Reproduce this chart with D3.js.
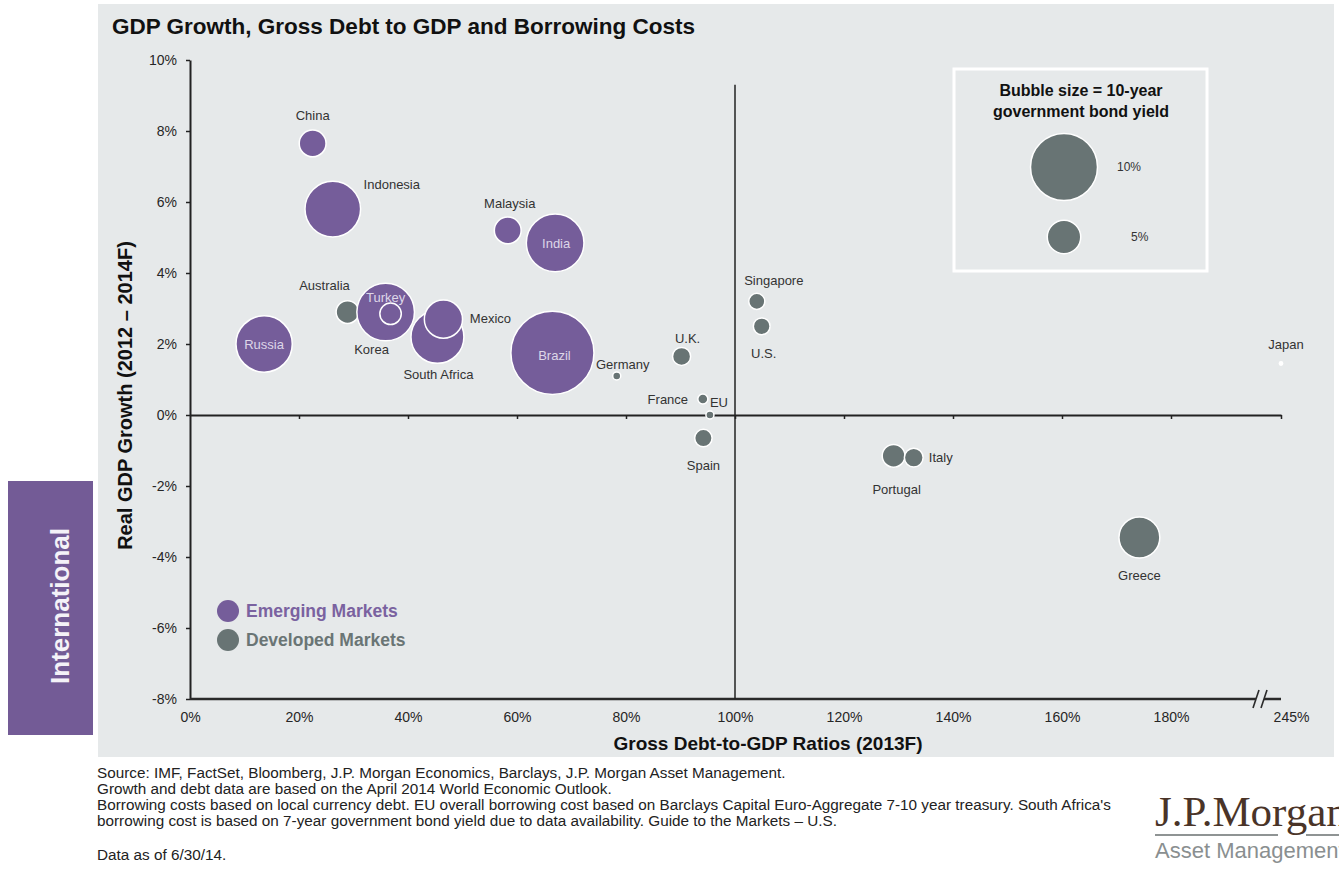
<!DOCTYPE html>
<html>
<head>
<meta charset="utf-8">
<script src="https://cdn.jsdelivr.net/npm/d3@7"></script>
<style>
  body { margin: 0; background: #fff; }
  svg { display: block; font-family: "Liberation Sans", Arial, sans-serif; }
</style>
</head>
<body>
<div id="chart"></div>
<script>
// data
const countries = ["China", "Indonesia", "Malaysia", "India", "Russia", "Australia", "Turkey", "Korea",
  "South Africa", "Mexico", "Brazil", "Germany", "U.K.", "Singapore", "U.S.", "France", "EU", "Spain",
  "Portugal", "Italy", "Greece", "Japan"];
const groups = ["EM", "EM", "EM", "EM", "EM", "DM", "EM", "EM",
  "EM", "EM", "EM", "DM", "DM", "DM", "DM", "DM", "DM", "DM",
  "DM", "DM", "DM", "DM"];
const debtToGdp = [22.5, 26.2, 58.3, 67.0, 13.6, 28.9, 35.9, 36.8,
  45.4, 46.5, 66.5, 78.3, 90.2, 104.0, 104.9, 94.1, 95.4, 94.2,
  129.1, 132.8, 174.2, 245];
const gdpGrowth = [7.65, 5.8, 5.2, 4.85, 2.0, 2.9, 2.9, 2.85,
  2.2, 2.7, 1.75, 1.1, 1.65, 3.2, 2.5, 0.45, 0.0, -0.65,
  -1.15, -1.2, -3.45, 1.45];
const bondYield = [4.0, 8.3, 4.0, 8.6, 8.4, 3.4, 8.6, 3.2,
  7.9, 5.7, 12.4, 1.2, 2.7, 2.4, 2.5, 1.5, 1.2, 2.6,
  3.4, 2.8, 6.1, 0.5];

const yTicks = [-8, -6, -4, -2, 0, 2, 4, 6, 8, 10];
const xTicks = [0, 20, 40, 60, 80, 100, 120, 140, 160, 180, 245];
const sizeLegendValues = [10, 5];
const groupNames = { EM: "Emerging Markets", DM: "Developed Markets" };

const footnotes = [
  "Source: IMF, FactSet, Bloomberg, J.P. Morgan Economics, Barclays, J.P. Morgan Asset Management.",
  "Growth and debt data are based on the April 2014 World Economic Outlook.",
  "Borrowing costs based on local currency debt. EU overall borrowing cost based on Barclays Capital Euro-Aggregate 7-10 year treasury. South Africa's",
  "borrowing cost is based on 7-year government bond yield due to data availability. Guide to the Markets \u2013 U.S.",
  "Data as of 6/30/14."
];

// label placement relative to bubble centre (pixels)
const labelOffsets = {
  "China": [0, -27], "Indonesia": [59, -24], "Malaysia": [2, -26], "India": [1, 2],
  "Russia": [0, 2], "Australia": [-23, -25], "Turkey": [0, -13], "Korea": [-19, 37],
  "South Africa": [1, 39], "Mexico": [47, 0], "Brazil": [2, 4], "Germany": [6, -10],
  "U.K.": [6, -17], "Singapore": [17, -20], "U.S.": [2, 28], "France": [-35, 2],
  "EU": [9, -11], "Spain": [0, 28], "Portugal": [3, 35], "Italy": [27, 1],
  "Greece": [0, 39], "Japan": [5, -18]
};
const insideLabels = ["India", "Russia", "Turkey", "Brazil"];

const colors = { EM: "#755d9a", DM: "#687474" };
const textColor = "#262626";

const width = 1339, height = 870;
const svg = d3.select("#chart").append("svg")
  .attr("width", width)
  .attr("height", height);

// grey panel and side tab
svg.append("rect").attr("x", 98).attr("y", 4).attr("width", 1236).attr("height", 753).attr("fill", "#e6e9ea");
svg.append("rect").attr("x", 8).attr("y", 481).attr("width", 85).attr("height", 254).attr("fill", "#735b96");
svg.append("text")
  .attr("transform", "translate(69,606) rotate(-90)")
  .attr("text-anchor", "middle")
  .attr("fill", "#f4f2f8")
  .attr("font-size", 26)
  .attr("font-weight", "bold")
  .text("International");

svg.append("text")
  .attr("x", 112).attr("y", 34)
  .attr("font-size", 22.5).attr("font-weight", "bold").attr("fill", "#111")
  .text("GDP Growth, Gross Debt to GDP and Borrowing Costs");

// scales (axis broken between 180% and 245%)
const x = d3.scaleLinear().domain([0, 180, 245]).range([190, 1171, 1281]);
const y = d3.scaleLinear().domain([-8, 10]).range([699, 60]);
const r = d3.scaleLinear().domain([0, 10]).range([0, 33.5]);

// y axis
const yAxis = svg.append("g")
  .attr("transform", `translate(${x(0)},0)`)
  .call(d3.axisLeft(y).tickValues(yTicks).tickSize(4).tickSizeOuter(0).tickPadding(9)
    .tickFormat(d => d + "%"));
yAxis.select(".domain").attr("stroke", "#222").attr("stroke-width", 2);
yAxis.selectAll(".tick line").attr("stroke", "#222").attr("stroke-width", 1.5);
yAxis.selectAll("text").attr("font-size", 14).attr("fill", textColor).attr("font-family", null);

// x tick labels under the bottom line
const xAxis = svg.append("g")
  .attr("transform", `translate(0,${y(-8)})`)
  .call(d3.axisBottom(x).tickValues(xTicks).tickSize(0).tickPadding(13)
    .tickFormat(d => d + "%"));
xAxis.select(".domain").remove();
xAxis.selectAll("text").attr("font-size", 14).attr("fill", textColor).attr("font-family", null);
xAxis.selectAll(".tick").filter(d => d === 245).select("text").attr("dx", 10);

// bottom line with break marks
const breakX = x(245) - 22;
svg.append("line").attr("x1", x(0)).attr("x2", breakX - 3).attr("y1", y(-8)).attr("y2", y(-8))
  .attr("stroke", "#2a2a2a").attr("stroke-width", 2.5);
svg.append("line").attr("x1", breakX + 5).attr("x2", x(245)).attr("y1", y(-8)).attr("y2", y(-8))
  .attr("stroke", "#2a2a2a").attr("stroke-width", 2.5);
[-3, 5].forEach(off => {
  svg.append("line")
    .attr("x1", breakX + off - 3).attr("y1", y(-8) + 9)
    .attr("x2", breakX + off + 3).attr("y2", y(-8) - 9)
    .attr("stroke", "#2a2a2a").attr("stroke-width", 1.6);
});

// zero growth line with ticks
const zeroAxis = svg.append("g")
  .attr("transform", `translate(0,${y(0)})`)
  .call(d3.axisBottom(x).tickValues(xTicks.slice(1)).tickSize(4).tickSizeOuter(0).tickFormat(""));
zeroAxis.select(".domain").attr("stroke", "#222").attr("stroke-width", 2);
zeroAxis.selectAll(".tick line").attr("stroke", "#222").attr("stroke-width", 1.5);

// 100% debt line
svg.append("line")
  .attr("x1", x(100)).attr("x2", x(100))
  .attr("y1", y(9.3)).attr("y2", y(-8))
  .attr("stroke", "#222").attr("stroke-width", 1.5);

// axis titles
svg.append("text")
  .attr("transform", `translate(132,${(y(10) + y(-8)) / 2 + 16}) rotate(-90)`)
  .attr("text-anchor", "middle")
  .attr("font-size", 20).attr("font-weight", "bold").attr("fill", "#111")
  .text("Real GDP Growth (2012 \u2013 2014F)");
svg.append("text")
  .attr("x", 768).attr("y", 750)
  .attr("text-anchor", "middle")
  .attr("font-size", 19).attr("font-weight", "bold").attr("fill", "#111")
  .text("Gross Debt-to-GDP Ratios (2013F)");

// bubbles
const data = countries.map((c, i) => ({
  name: c, group: groups[i], debt: debtToGdp[i], growth: gdpGrowth[i], yld: bondYield[i]
}));

svg.append("g")
  .selectAll("circle")
  .data(data)
  .join("circle")
  .attr("cx", d => x(d.debt))
  .attr("cy", d => y(d.growth))
  .attr("r", d => r(d.yld))
  .attr("fill", d => d.name === "Japan" ? "#fff" : colors[d.group])
  .attr("stroke", "#fff")
  .attr("stroke-width", 1.5);

svg.append("g")
  .selectAll("text")
  .data(data)
  .join("text")
  .attr("x", d => x(d.debt) + labelOffsets[d.name][0])
  .attr("y", d => y(d.growth) + labelOffsets[d.name][1])
  .attr("text-anchor", "middle")
  .attr("dominant-baseline", "middle")
  .attr("font-size", 13)
  .attr("fill", d => insideLabels.includes(d.name) ? "#ddd6e8" : "#333")
  .text(d => d.name);

// bubble size legend
const lg = svg.append("g");
lg.append("rect").attr("x", 954).attr("y", 69).attr("width", 253).attr("height", 202)
  .attr("fill", "none").attr("stroke", "#fff").attr("stroke-width", 3);
lg.append("text").attr("x", 1081).attr("y", 96).attr("text-anchor", "middle")
  .attr("font-size", 16).attr("font-weight", "bold").attr("fill", "#111")
  .text("Bubble size = 10-year");
lg.append("text").attr("x", 1081).attr("y", 117).attr("text-anchor", "middle")
  .attr("font-size", 16).attr("font-weight", "bold").attr("fill", "#111")
  .text("government bond yield");
const legendY = [167, 237];
sizeLegendValues.forEach((v, i) => {
  lg.append("circle").attr("cx", 1064).attr("cy", legendY[i]).attr("r", r(v))
    .attr("fill", colors.DM).attr("stroke", "#fff").attr("stroke-width", 1.5);
  lg.append("text").attr("x", 1117 + (i === 1 ? 14 : 0)).attr("y", legendY[i] + 4)
    .attr("font-size", 12).attr("fill", "#333")
    .text(v + "%");
});

// group legend
["EM", "DM"].forEach((g, i) => {
  const cy = 611 + i * 29;
  svg.append("circle").attr("cx", 228).attr("cy", cy).attr("r", 11).attr("fill", colors[g]);
  svg.append("text").attr("x", 246).attr("y", cy + 6)
    .attr("font-size", 17.5).attr("font-weight", "bold").attr("fill", g === "EM" ? "#7a62a0" : "#6a7575")
    .text(groupNames[g]);
});

// footnotes (slightly stretched horizontally like the source)
const footY = [778, 794, 810, 826, 860];
const foot = svg.append("g").attr("transform", "translate(97,0) scale(1.07,1)");
footnotes.forEach((t, i) => {
  foot.append("text").attr("x", 0).attr("y", footY[i])
    .attr("font-size", 14.3).attr("fill", "#222")
    .text(t);
});

// logo
svg.append("text").attr("x", 1155).attr("y", 826)
  .attr("font-family", "'Liberation Serif', 'Times New Roman', serif")
  .attr("font-size", 43).attr("fill", "#4a3428")
  .text("J.P.Morgan");
svg.append("line").attr("x1", 1155).attr("x2", 1278).attr("y1", 835).attr("y2", 835)
  .attr("stroke", "#8f9494").attr("stroke-width", 2);
svg.append("line").attr("x1", 1306).attr("x2", 1339).attr("y1", 835).attr("y2", 835)
  .attr("stroke", "#8f9494").attr("stroke-width", 2);
svg.append("text").attr("x", 1155).attr("y", 858)
  .attr("font-size", 22).attr("fill", "#8a8f90")
  .text("Asset Management");
</script>
</body>
</html>
